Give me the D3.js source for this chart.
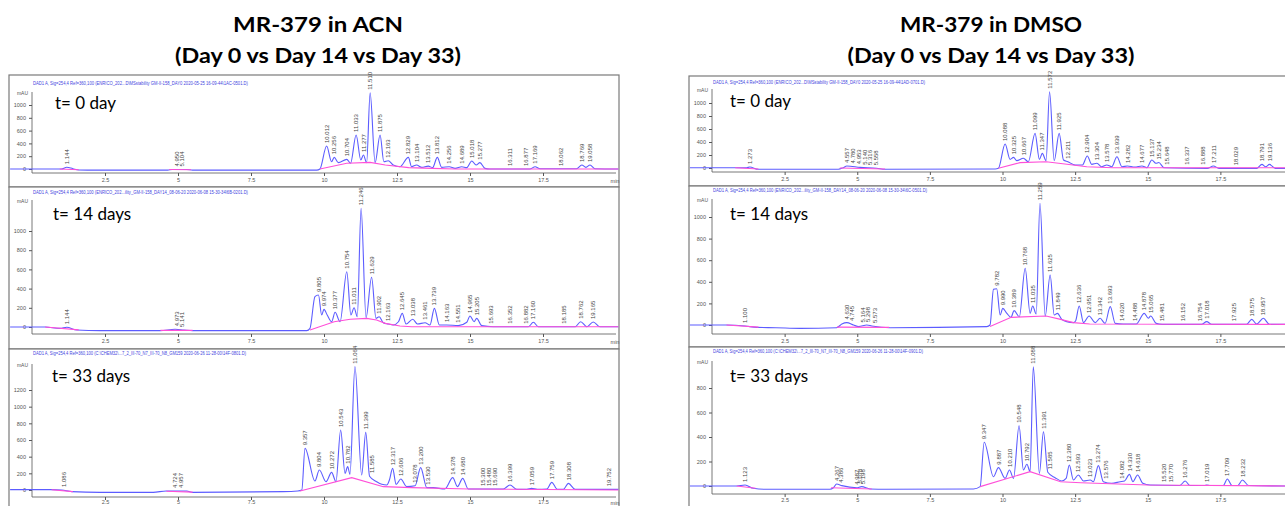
<!DOCTYPE html>
<html>
<head>
<meta charset="utf-8">
<script src="https://cdn.jsdelivr.net/npm/d3@7"></script>
<style>
  body { margin: 0; background: #fff; }
  svg { display: block; }
</style>
</head>
<body>
<div id="chart"></div>
<script>
// ---- data: [time (min), signal (mAU)] ----
const columnTitles = ["MR-379 in ACN", "MR-379 in DMSO"]
const subTitle = "(Day 0 vs Day 14 vs Day 33)"
const panelNames = ["t= 0 day", "t= 14 days", "t= 33 days"]
const xTickLabels = [2.5, 5, 7.5, 10, 12.5, 15, 17.5]
const yTicks1000 = [0, 200, 400, 600, 800, 1000]
const yTicks1200 = [0, 200, 400, 600, 800, 1000, 1200]
const yTicks800 = [0, 200, 400, 600, 800]
const headers = [
  "DAD1 A, Sig=254,4 Ref=360,100 (ENRICO_202...D\\MSstability GM-II-158_DAY0 2020-05-25 16-09-44\\1AC-0501.D)",
  "DAD1 A, Sig=254,4 Ref=360,100 (ENRICO_202...ility_GM-II-158_DAY14_08-06-20 2020-06-08 15-30-34\\6B-0201.D)",
  "DAD1 A, Sig=254,4 Ref=360,100 (C:\\CHEM32\\...7_2_III-70_N7_III-70_N8_GM159 2020-06-26 11-28-00\\14F-0801.D)",
  "DAD1 A, Sig=254,4 Ref=360,100 (ENRICO_202...D\\MSstability GM-II-158_DAY0 2020-05-25 16-09-44\\1AD-0701.D)",
  "DAD1 A, Sig=254,4 Ref=360,100 (ENRICO_202...ility_GM-II-158_DAY14_08-06-20 2020-06-08 15-30-34\\6C-0501.D)",
  "DAD1 A, Sig=254,4 Ref=360,100 (C:\\CHEM32\\...7_2_III-70_N7_III-70_N8_GM159 2020-06-26 11-28-00\\14F-0901.D)"
]

const acn0Trace = [[-0.75,0],[1.0,0],[1.19,27],[1.4,5],[1.6,-15],[2.2,-18],[4.65,-18],[4.8,-8],[5.3,-8],[5.5,-18],[9.75,-18],[9.86,0],[10.09,359],[10.26,114],[10.35,182],[10.49,99],[10.78,151],[10.91,89],[11.10,531],[11.26,141],[11.35,219],[11.46,99],[11.58,1190],[11.75,99],[11.92,531],[12.05,114],[12.20,130],[12.37,62],[12.60,36],[12.89,182],[13.0,36],[13.17,62],[13.35,26],[13.57,45],[13.72,21],[13.88,182],[14.03,26],[14.29,36],[14.49,10],[14.72,36],[14.89,21],[15.06,125],[15.21,62],[15.34,99],[15.51,10],[15.68,0],[17.05,0],[17.23,36],[17.4,5],[18.65,5],[18.83,62],[18.97,26],[19.11,62],[19.28,5],[20.08,0]]
const acn0Base = [[[0.95,0],[1.6,-12]], [[4.7,-8],[5.45,-12]], [[9.86,0],[10.78,89],[11.58,104],[12.1,62],[12.9,21],[13.7,10],[14.5,0],[20.08,0]]]
const acn0Peaks = [[1.19,27,"1.144"],[4.95,-8,"4.950"],[5.15,-8,"5.104"],[10.09,359,"10.012"],[10.35,182,"10.256"],[10.78,151,"10.704"],[11.10,531,"11.033"],[11.35,219,"11.277"],[11.58,1190,"11.510"],[11.92,531,"11.875"],[12.20,130,"12.163"],[12.89,182,"12.829"],[13.17,62,"13.104"],[13.57,45,"13.512"],[13.88,182,"13.812"],[14.29,36,"14.256"],[14.72,36,"14.689"],[15.06,125,"15.018"],[15.34,99,"15.277"],[16.35,0,"16.311"],[16.9,0,"16.877"],[17.23,36,"17.169"],[18.1,0,"18.062"],[18.83,62,"18.769"],[19.11,62,"19.058"]]

const acn14Trace = [[-0.75,0],[0.45,0],[0.96,-14],[1.19,-3],[1.53,-31],[2.33,-38],[4.38,-38],[4.9,-24],[5.2,-31],[5.5,-38],[9.41,-38],[9.52,-14],[9.69,316],[9.81,333],[9.92,125],[10.0,184],[10.11,125],[10.26,55],[10.38,153],[10.55,55],[10.78,576],[10.92,125],[11.03,201],[11.14,107],[11.27,1236],[11.44,97],[11.63,518],[11.78,90],[11.89,107],[12.03,45],[12.20,31],[12.37,21],[12.55,55],[12.68,142],[12.81,31],[13.04,80],[13.2,31],[13.46,45],[13.63,21],[13.78,194],[13.95,21],[14.2,21],[14.6,14],[14.89,49],[15.0,115],[15.14,55],[15.23,90],[15.40,14],[15.8,3],[17.0,3],[17.17,49],[17.34,3],[18.6,3],[18.79,55],[19.0,3],[19.22,52],[19.45,3],[20.08,3]]
const acn14Base = [[[0.45,0],[1.6,-30]], [[4.4,-35],[5.5,-35]], [[9.52,-31],[10.35,55],[10.9,80],[11.46,90],[11.8,73],[12.1,38],[12.6,10],[13.0,3],[20.08,3]]]
const acn14Peaks = [[1.19,-3,"1.144"],[4.95,-24,"4.973"],[5.15,-31,"5.141"],[9.81,333,"9.805"],[10.0,184,"9.974"],[10.38,153,"10.377"],[10.78,576,"10.754"],[11.03,201,"11.011"],[11.27,1236,"11.246"],[11.63,518,"11.629"],[11.89,107,"11.902"],[12.2,31,"12.163"],[12.68,142,"12.645"],[13.04,80,"13.038"],[13.46,45,"13.461"],[13.78,194,"13.739"],[14.2,21,"14.163"],[14.6,14,"14.551"],[15.0,115,"14.965"],[15.23,90,"15.205"],[15.7,3,"15.693"],[16.35,3,"16.352"],[16.9,3,"16.882"],[17.17,49,"17.160"],[18.2,3,"18.185"],[18.79,55,"18.762"],[19.22,52,"19.165"]]

const acn33Trace = [[-0.75,5],[0.67,5],[1.02,0],[1.36,-20],[2.33,-28],[4.15,-28],[4.6,-12],[5.3,-12],[5.5,-28],[8.6,-20],[9.1,-12],[9.24,0],[9.35,500],[9.69,108],[9.84,240],[10.07,100],[10.26,212],[10.41,100],[10.57,720],[10.72,200],[10.81,280],[10.89,188],[11.06,1480],[11.29,180],[11.43,692],[11.56,165],[11.8,100],[11.98,68],[12.15,60],[12.24,120],[12.35,260],[12.47,68],[12.63,132],[12.83,40],[13.12,50],[13.31,268],[13.52,28],[13.74,28],[14.14,12],[14.41,148],[14.57,40],[14.75,140],[14.94,12],[16.14,12],[16.37,60],[16.6,8],[16.95,8],[17.11,20],[17.3,8],[17.63,12],[17.8,92],[17.99,8],[18.2,8],[18.37,80],[18.6,8],[20.08,8]]
const acn33Base = [[[0.67,3],[1.4,-20]], [[4.6,-15],[5.5,-25]], [[9.18,-12],[10.95,148],[12.03,40],[13.0,28],[14.97,12],[20.08,0]]]
const acn33Peaks = [[1.1,0,"1.086"],[4.9,-12,"4.724"],[5.1,-12,"4.957"],[9.35,500,"9.357"],[9.84,240,"9.804"],[10.26,212,"10.272"],[10.57,720,"10.543"],[10.81,280,"10.782"],[11.06,1480,"11.064"],[11.43,692,"11.399"],[11.63,168,"11.585"],[12.35,260,"12.317"],[12.63,132,"12.606"],[13.1,50,"13.078"],[13.31,268,"13.200"],[13.55,28,"13.530"],[14.41,148,"14.378"],[14.75,140,"14.680"],[15.45,12,"15.300"],[15.65,12,"15.480"],[15.85,12,"15.690"],[16.37,60,"16.399"],[17.11,20,"17.059"],[17.8,92,"17.759"],[18.37,80,"18.308"],[19.75,8,"19.752"]]

const dmso0Trace = [[-0.76,5],[0.79,5],[1.19,5],[1.3,15],[1.59,-20],[4.35,-20],[4.52,5],[4.64,31],[5.1,10],[5.67,-5],[5.96,-20],[9.75,-15],[9.86,-5],[10.09,369],[10.26,133],[10.38,164],[10.49,113],[10.72,149],[10.89,97],[11.12,533],[11.27,133],[11.37,225],[11.5,113],[11.62,1174],[11.78,113],[11.95,533],[12.1,123],[12.25,97],[12.5,46],[12.75,46],[12.92,185],[13.07,56],[13.25,72],[13.42,20],[13.59,46],[13.76,20],[13.94,174],[14.11,20],[14.3,31],[14.55,15],[14.8,31],[14.97,5],[15.14,123],[15.28,72],[15.38,85],[15.56,5],[17.05,-5],[17.26,31],[17.45,-5],[18.75,-5],[18.93,56],[19.06,20],[19.19,56],[19.39,-5],[19.8,-5]]
const dmso0Base = [[[0.8,3],[1.6,-15]], [[4.4,0],[5.96,-15]], [[9.86,-5],[10.6,82],[11.5,97],[12.15,61],[12.9,20],[13.8,5],[19.8,5]]]
const dmso0Peaks = [[1.3,15,"1.273"],[4.64,31,"4.557"],[4.85,25,"4.780"],[5.05,10,"4.953"],[5.25,5,"5.140"],[5.45,0,"5.316"],[5.65,-5,"5.558"],[10.09,369,"10.088"],[10.38,164,"10.325"],[10.72,149,"10.667"],[11.12,533,"11.099"],[11.37,225,"11.347"],[11.62,1174,"11.572"],[11.95,533,"11.925"],[12.25,97,"12.211"],[12.92,185,"12.904"],[13.25,72,"13.304"],[13.59,46,"13.578"],[13.94,174,"13.939"],[14.3,31,"14.282"],[14.8,31,"14.677"],[15.14,123,"15.137"],[15.38,85,"15.234"],[15.65,5,"15.648"],[16.35,5,"16.337"],[16.9,5,"16.888"],[17.26,31,"17.211"],[18.05,-5,"18.029"],[18.93,56,"18.791"],[19.19,56,"19.136"]]

const dmso14Trace = [[-0.76,0],[0.5,0],[1.14,-9],[1.54,-22],[2.2,-25],[3.03,-31],[4.29,-25],[4.47,9],[4.64,22],[4.87,0],[5.05,-15],[5.33,0],[5.5,-9],[6.13,-25],[9.46,-15],[9.57,0],[9.69,330],[9.8,336],[9.92,93],[10.01,154],[10.15,108],[10.29,71],[10.4,133],[10.58,77],[10.78,525],[10.95,108],[11.04,176],[11.16,102],[11.29,1127],[11.47,83],[11.64,463],[11.78,93],[11.89,108],[12.04,52],[12.21,31],[12.44,22],[12.52,40],[12.64,176],[12.79,22],[12.98,83],[13.19,22],[13.36,62],[13.53,15],[13.71,170],[13.88,15],[14.16,9],[14.6,9],[14.88,108],[15.02,62],[15.1,83],[15.29,15],[15.5,6],[16.85,6],[17.03,31],[17.2,6],[18.4,6],[18.58,52],[18.75,9],[18.98,62],[19.19,6],[19.8,6]]
const dmso14Base = [[[0.5,0],[1.6,-20]], [[4.3,-20],[6.1,-22]], [[9.57,-15],[10.3,71],[11.5,83],[12.0,52],[12.44,22],[13.0,9],[19.8,6]]]
const dmso14Peaks = [[1.14,-9,"1.100"],[4.64,22,"4.630"],[4.8,10,"4.745"],[5.2,-5,"5.164"],[5.35,0,"5.298"],[5.6,-9,"5.573"],[9.8,336,"9.782"],[10.01,154,"9.990"],[10.4,133,"10.389"],[10.78,525,"10.768"],[11.04,176,"11.035"],[11.29,1127,"11.259"],[11.64,463,"11.625"],[11.89,108,"11.849"],[12.64,176,"12.636"],[12.98,83,"12.951"],[13.36,62,"13.342"],[13.71,170,"13.693"],[14.1,9,"14.020"],[14.55,9,"14.488"],[14.88,108,"14.878"],[15.1,83,"15.065"],[15.5,6,"15.481"],[16.2,6,"16.152"],[16.8,6,"16.754"],[17.03,31,"17.018"],[17.95,6,"17.925"],[18.58,52,"18.575"],[18.98,62,"18.957"]]

const dmso33Trace = [[-0.76,0],[0.85,0],[1.14,8],[1.42,-19],[1.88,-27],[4.06,-27],[4.18,-14],[4.29,16],[4.47,3],[4.98,-14],[5.15,-5],[5.44,-24],[6.0,-27],[9.0,-24],[9.23,-5],[9.37,357],[9.69,76],[9.86,150],[10.09,62],[10.24,131],[10.38,62],[10.57,492],[10.72,131],[10.84,177],[10.95,117],[11.06,974],[11.27,103],[11.41,443],[11.56,112],[11.81,68],[12.04,41],[12.19,62],[12.3,171],[12.44,49],[12.61,90],[12.79,41],[13.02,49],[13.13,35],[13.3,166],[13.47,35],[13.76,22],[14.05,35],[14.2,41],[14.37,95],[14.49,35],[14.65,90],[14.83,22],[15.08,8],[16.1,4],[16.29,41],[16.45,4],[16.95,4],[17.03,8],[17.15,4],[17.6,4],[17.74,57],[17.9,4],[18.1,4],[18.26,49],[18.47,4],[19.8,0]]
const dmso33Base = [[[0.85,0],[1.5,-19]], [[4.1,-14],[5.5,-24]], [[9.23,-5],[10.95,117],[12.0,35],[12.7,27],[15.0,8],[19.8,0]]]
const dmso33Peaks = [[1.14,8,"1.123"],[4.29,16,"4.267"],[4.45,3,"4.386"],[4.98,-14,"4.987"],[5.1,-5,"5.078"],[5.2,-10,"5.198"],[9.37,357,"9.347"],[9.86,150,"9.887"],[10.24,131,"10.210"],[10.57,492,"10.548"],[10.84,177,"10.792"],[11.06,974,"11.088"],[11.41,443,"11.391"],[11.62,112,"11.585"],[12.3,171,"12.380"],[12.61,90,"12.593"],[13.02,49,"13.023"],[13.3,166,"13.274"],[13.55,35,"13.576"],[14.1,35,"14.082"],[14.37,95,"14.330"],[14.65,90,"14.618"],[15.55,8,"15.520"],[15.8,6,"15.770"],[16.29,41,"16.276"],[17.03,8,"17.019"],[17.74,57,"17.709"],[18.26,49,"18.232"]]

// ---- layout (pixels) ----
const panels = [
  {trace: acn0Trace,   base: acn0Base,   peaks: acn0Peaks,   name: 0, box: [9,75,619,187],    xr: [32,616],   y0: 169, yMax: 1000, yMaxPx: 105, ticks: yTicks1000, axisTop: 92,  xAxisY: 173, pad: 2, hx: 33,  hy: 83,  hw: 215, nx: 55,  ny: 109},
  {trace: acn14Trace,  base: acn14Base,  peaks: acn14Peaks,  name: 1, box: [9,187,619,349],   xr: [32,616],   y0: 327, yMax: 1000, yMaxPx: 231, ticks: yTicks1000, axisTop: 200, xAxisY: 334, pad: 2, hx: 33,  hy: 192, hw: 215, nx: 53,  ny: 220},
  {trace: acn33Trace,  base: acn33Base,  peaks: acn33Peaks,  name: 2, box: [9,349,619,530],   xr: [32,616],   y0: 490, yMax: 1200, yMaxPx: 390, ticks: yTicks1200, axisTop: 364, xAxisY: 497, pad: 0, hx: 33,  hy: 353, hw: 213, nx: 52,  ny: 382},
  {trace: dmso0Trace,  base: dmso0Base,  peaks: dmso0Peaks,  name: 0, box: [689,76,1300,186], xr: [712,1293], y0: 168, yMax: 1000, yMaxPx: 103, ticks: yTicks1000, axisTop: 89,  xAxisY: 172, pad: 2, hx: 713, hy: 82,  hw: 212, nx: 730, ny: 107},
  {trace: dmso14Trace, base: dmso14Base, peaks: dmso14Peaks, name: 1, box: [689,186,1300,347],xr: [712,1293], y0: 325, yMax: 1000, yMaxPx: 217, ticks: yTicks1000, axisTop: 199, xAxisY: 334, pad: 2, hx: 713, hy: 190, hw: 214, nx: 730, ny: 220},
  {trace: dmso33Trace, base: dmso33Base, peaks: dmso33Peaks, name: 2, box: [689,347,1300,530],xr: [712,1293], y0: 486, yMax: 800,  yMaxPx: 388, ticks: yTicks800,  axisTop: 361, xAxisY: 494, pad: 1, hx: 713, hy: 351, hw: 210, nx: 730, ny: 382}
]

const W = 1285, H = 506
const svg = d3.select("#chart").append("svg")
  .attr("width", W)
  .attr("height", H)

// column titles
const titlePos = [{cx: 318, w1: 170, w2: 286}, {cx: 991, w1: 182, w2: 287}]
columnTitles.forEach(function(t, i) {
  const p = titlePos[i]
  svg.append("text")
    .attr("x", p.cx).attr("y", 32)
    .attr("text-anchor", "middle")
    .attr("textLength", p.w1).attr("lengthAdjust", "spacingAndGlyphs")
    .style("font-family", "Lato, 'Open Sans', sans-serif")
    .style("font-weight", "bold").style("font-size", "21px")
    .text(t)
  svg.append("text")
    .attr("x", p.cx).attr("y", 63)
    .attr("text-anchor", "middle")
    .attr("textLength", p.w2).attr("lengthAdjust", "spacingAndGlyphs")
    .style("font-family", "Lato, 'Open Sans', sans-serif")
    .style("font-weight", "bold").style("font-size", "21px")
    .text(subTitle)
})

panels.forEach(function(p, i) { drawPanel(p, i) })

function drawPanel(p, i) {
  const g = svg.append("g")

  g.append("rect")
    .attr("x", p.box[0]).attr("y", p.box[1])
    .attr("width", p.box[2] - p.box[0]).attr("height", p.box[3] - p.box[1])
    .attr("fill", "#fff").attr("stroke", "#7a7a7a").attr("stroke-width", 1.2)

  var x = d3.scaleLinear().domain([0, 20]).range(p.xr)
  var y = d3.scaleLinear().domain([0, p.yMax]).range([p.y0, p.yMaxPx])

  // blue file header
  g.append("text")
    .attr("x", p.hx).attr("y", p.hy + 2)
    .attr("textLength", p.hw).attr("lengthAdjust", "spacingAndGlyphs")
    .style("font-family", "'Liberation Sans', sans-serif").style("font-size", "5.5px")
    .attr("fill", "#3f3fe0")
    .text(headers[i])

  // x axis: major labelled + minor ticks
  var xAxisG = g.append("g").attr("transform", "translate(0," + p.xAxisY + ")")
  xAxisG.append("line")
    .attr("x1", p.xr[0]).attr("x2", p.xr[1]).attr("stroke", "#555").attr("stroke-width", 0.8)
  xAxisG.call(d3.axisBottom(x).ticks(40).tickSize(2).tickFormat(""))
  xAxisG.call(d3.axisBottom(x).tickValues(xTickLabels).tickSize(3).tickPadding(p.pad).tickFormat(d3.format("")))
  xAxisG.selectAll(".domain").remove()
  xAxisG.selectAll("line").attr("stroke", "#555")
  xAxisG.selectAll("text")
    .style("font-family", "'Liberation Sans', sans-serif").style("font-size", "5.5px").attr("fill", "#555")
  // the unit label only fits in the left column; on the right it falls off the page
  if (p.xr[1] + 6 < W) {
    xAxisG.append("text")
      .attr("x", p.xr[1] - 1).attr("y", 3 + p.pad + 5)
      .attr("text-anchor", "middle")
      .style("font-family", "'Liberation Sans', sans-serif").style("font-size", "5.5px").attr("fill", "#555")
      .text("min")
  }

  // y axis
  var yAxisG = g.append("g").attr("transform", "translate(" + p.xr[0] + ",0)")
  yAxisG.append("line")
    .attr("y1", p.xAxisY).attr("y2", p.axisTop).attr("stroke", "#555").attr("stroke-width", 0.8)
  yAxisG.call(d3.axisLeft(y).ticks(p.yMax / 100).tickSize(2).tickFormat(""))
  yAxisG.call(d3.axisLeft(y).tickValues(p.ticks).tickSize(3).tickPadding(3).tickFormat(d3.format("d")))
  yAxisG.selectAll(".domain").remove()
  yAxisG.selectAll("line").attr("stroke", "#555")
  yAxisG.selectAll("text")
    .style("font-family", "'Liberation Sans', sans-serif").style("font-size", "5.5px").attr("fill", "#555")
  yAxisG.append("text")
    .attr("x", -4).attr("y", p.axisTop + 3)
    .attr("text-anchor", "end")
    .style("font-family", "'Liberation Sans', sans-serif").style("font-size", "5px").attr("fill", "#555")
    .text("mAU")

  // chromatogram trace
  var line = d3.line()
    .x(function(d) { return x(d[0]) })
    .y(function(d) { return y(d[1]) })
    .curve(d3.curveMonotoneX)

  g.append("path")
    .datum(p.trace)
    .attr("d", line)
    .attr("fill", "none")
    .attr("stroke", "#5c5cff")
    .attr("stroke-width", 1.1)

  // integration baseline
  var baseLine = d3.line()
    .x(function(d) { return x(d[0]) })
    .y(function(d) { return y(d[1]) })
  g.selectAll(".base")
    .data(p.base)
    .enter()
    .append("path")
    .attr("d", baseLine)
    .attr("fill", "none")
    .attr("stroke", "#ff4fd8")
    .attr("stroke-width", 1.1)

  // retention time labels, vertical above each peak
  g.selectAll(".rt")
    .data(p.peaks)
    .enter()
    .append("text")
    .attr("transform", function(d) { return "translate(" + x(d[0]) + "," + (y(d[1]) - 3) + ")rotate(-90)" })
    .attr("dy", "0.35em")
    .style("font-family", "'Liberation Sans', sans-serif").style("font-size", "6px")
    .attr("fill", "#444")
    .text(function(d) { return d[2] })

  // panel name
  g.append("text")
    .attr("x", p.nx).attr("y", p.ny)
    .style("font-family", "Lato, 'Open Sans', sans-serif").style("font-size", "17px")
    .attr("fill", "#000")
    .text(panelNames[p.name])
}
</script>
</body>
</html>
